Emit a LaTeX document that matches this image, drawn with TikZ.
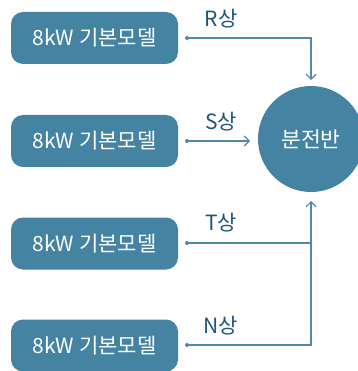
\documentclass[tikz,border=0pt]{standalone}
\usepackage{fontspec}
\setmainfont{Noto Sans CJK KR}
\usetikzlibrary{arrows.meta}
\definecolor{boxfill}{HTML}{4583A3}
\definecolor{labtext}{HTML}{1F5577}
\definecolor{linec}{HTML}{4F8AAA}
\tikzset{
  modelbox/.style={fill=boxfill, rounded corners=12pt, minimum width=167pt, minimum height=52pt, inner sep=0pt, text=white, font=\fontsize{21}{21}\selectfont},
  hub/.style={circle, fill=boxfill, minimum size=106pt, inner sep=0pt, text=white, font=\fontsize{21.5}{21.5}\selectfont},
  phase/.style={text=labtext, font=\fontsize{21}{21}\selectfont, inner sep=0pt},
  wire/.style={draw=linec, line width=1.1pt},
  arr/.style={wire, -{Straight Barb[length=5pt, width=10pt, line width=1.1pt]}},
  dot/.style={circle, fill=linec, minimum size=4pt, inner sep=0pt},
}
\begin{document}
\begin{tikzpicture}[x=1pt,y=-1pt]
\useasboundingbox (0,0) rectangle (357,371);
\node[modelbox] (m1) at (94.5,38) {8kW 기본모델};
\node[modelbox] (m2) at (94.5,141) {8kW 기본모델};
\node[modelbox] (m3) at (94.5,243.5) {8kW 기본모델};
\node[modelbox] (m4) at (94.5,345.5) {8kW 기본모델};
\node[hub] (h) at (311,139) {분전반};
\node[dot] (d1) at (187,38) {};
\node[dot] (d2) at (187,141) {};
\node[dot] (d3) at (187,243) {};
\node[dot] (d4) at (187,345) {};
\coordinate (c1) at (311,38);
\coordinate (c4) at (311,345);
\coordinate (j3) at (311,243);
\coordinate (t1) at (311,80);
\coordinate (t2) at (250,141);
\coordinate (t4) at (311,201);
\draw[arr] (d1.center) -- (c1) -- (t1);
\draw[arr] (d2.center) -- (t2);
\draw[wire] (d3.center) -- (j3);
\draw[arr] (d4.center) -- (c4) -- (t4);
\node[phase] (lr) at (221,19) {R상};
\node[phase] (ls) at (221,122) {S상};
\node[phase] (lt) at (221,223) {T상};
\node[phase] (ln) at (221,326) {N상};
\end{tikzpicture}
\end{document}
